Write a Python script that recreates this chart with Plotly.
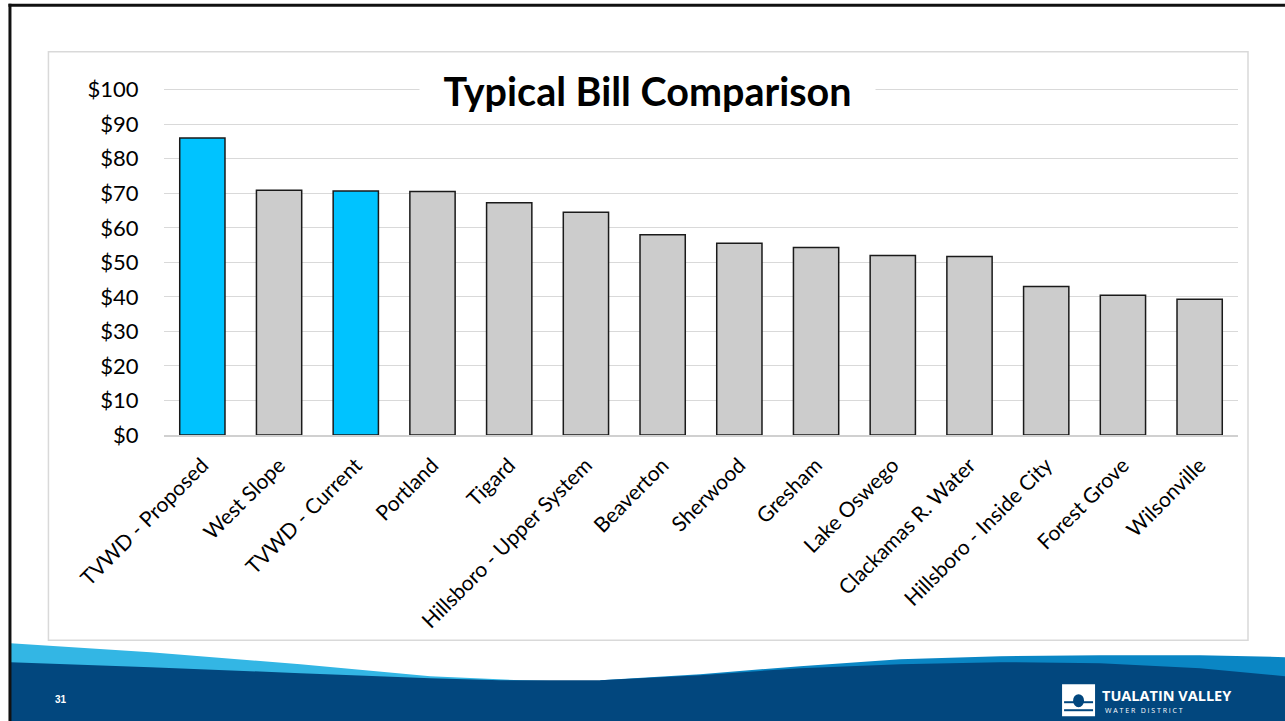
import plotly.graph_objects as go

categories = ["TVWD - Proposed", "West Slope", "TVWD - Current", "Portland", "Tigard",
              "Hillsboro - Upper System", "Beaverton", "Sherwood", "Gresham", "Lake Oswego",
              "Clackamas R. Water", "Hillsboro - Inside City", "Forest Grove", "Wilsonville"]
bills = [86.0, 70.9, 70.7, 70.5, 67.3, 64.5, 58.0, 55.5, 54.3, 52.0, 51.7, 43.0, 40.5, 39.3]
highlight = ["TVWD - Proposed", "TVWD - Current"]
tick_vals = [0, 10, 20, 30, 40, 50, 60, 70, 80, 90, 100]
tick_text = ["$" + str(v) for v in tick_vals]
y_top = 100.5

W, H = 1285, 721
B = 435
T = B - 345 * y_top / 100  # plot top in pixels
L, R = 163.6, 1238

def px(x):
    return (x - L) / (R - L)

def py(y):
    return (B - y) / (B - T)

colors = ["#00C3FF" if c in highlight else "#CCCCCC" for c in categories]

fig = go.Figure()
fig.add_trace(go.Bar(x=categories, y=bills, marker=dict(color=colors, line=dict(color="#1a1a1a", width=1.5)),
                     width=0.59, hoverinfo="x+y"))

shapes = []
# chart border box
shapes.append(dict(type="rect", xref="paper", yref="paper", x0=px(48), x1=px(1248), y0=py(640), y1=py(52),
                   line=dict(color="#D9D9D9", width=1.5), fillcolor="rgba(0,0,0,0)", layer="below"))

def path(points):
    return "M " + " L ".join(f"{px(x):.5f},{py(y):.5f}" for x, y in points) + " Z"

# light cyan wave (left)
shapes.append(dict(type="path", xref="paper", yref="paper",
                   path=path([(10, 643), (150, 652), (300, 664), (430, 676), (520, 680), (600, 682),
                              (600, 721), (10, 721)]),
                   fillcolor="#33B6E4", line=dict(width=0), layer="above"))
# right lighter band
shapes.append(dict(type="path", xref="paper", yref="paper",
                   path=path([(600, 680), (700, 674), (800, 666), (900, 659), (1000, 656), (1100, 655),
                              (1200, 655), (1285, 657), (1285, 721), (600, 721)]),
                   fillcolor="#0A86C4", line=dict(width=0), layer="above"))
# navy body
shapes.append(dict(type="path", xref="paper", yref="paper",
                   path=path([(10, 662), (150, 667), (300, 673), (430, 678), (500, 680), (600, 680),
                              (700, 675), (800, 668), (900, 664), (1000, 662), (1100, 663), (1200, 668),
                              (1285, 676), (1285, 721), (10, 721)]),
                   fillcolor="#02477E", line=dict(width=0), layer="above"))
# slide black frame
shapes.append(dict(type="line", xref="paper", yref="paper", x0=px(8), x1=px(1285), y0=py(5.5), y1=py(5.5),
                   line=dict(color="#111111", width=3), layer="above"))
shapes.append(dict(type="line", xref="paper", yref="paper", x0=px(9.5), x1=px(9.5), y0=py(4), y1=py(721),
                   line=dict(color="#111111", width=3), layer="above"))
# logo mark
shapes.append(dict(type="rect", xref="paper", yref="paper", x0=px(1062), x1=px(1095), y0=py(716), y1=py(684),
                   fillcolor="white", line=dict(width=0), layer="above"))
shapes.append(dict(type="circle", xref="paper", yref="paper", x0=px(1073), x1=px(1084), y0=py(707), y1=py(694),
                   fillcolor="#02477E", line=dict(width=0), layer="above"))
shapes.append(dict(type="line", xref="paper", yref="paper", x0=px(1064), x1=px(1093), y0=py(702), y1=py(702),
                   line=dict(color="#02477E", width=2), layer="above"))
shapes.append(dict(type="line", xref="paper", yref="paper", x0=px(1064), x1=px(1093), y0=py(710), y1=py(710),
                   line=dict(color="#02477E", width=2), layer="above"))

annotations = [
    dict(text="<b>Typical Bill Comparison</b>", xref="paper", yref="paper", x=px(647.5), y=py(90),
         showarrow=False, font=dict(family="Lato", size=39.5, color="#000000"), bgcolor="white",
         borderpad=0, xanchor="center", yanchor="middle", width=455, height=44),
    dict(text="<b>31</b>", xref="paper", yref="paper", x=px(61), y=py(699), showarrow=False,
         font=dict(family="Arial", size=10, color="white"), xanchor="center", yanchor="middle"),
    dict(text="<b>TUALATIN VALLEY</b>", xref="paper", yref="paper", x=px(1100), y=py(695), showarrow=False,
         font=dict(family="Open Sans", size=14.5, color="white"), xanchor="left", yanchor="middle"),
    dict(text="W A T E R   D I S T R I C T", xref="paper", yref="paper", x=px(1103), y=py(710), showarrow=False,
         font=dict(family="Open Sans", size=7, color="white"), xanchor="left", yanchor="middle"),
]

fig.update_layout(
    width=W, height=H,
    margin=dict(l=L, r=W - R, t=T, b=H - B, pad=0),
    paper_bgcolor="white", plot_bgcolor="white",
    showlegend=False, bargap=0.41,
    shapes=shapes, annotations=annotations,
    font=dict(family="Lato", color="#000000"),
)
fig.update_xaxes(tickangle=-45, tickfont=dict(family="Lato", size=21, color="#000000"),
                 showgrid=False, showline=True, linecolor="#D0D0D0", linewidth=1.5,
                 ticks="outside", ticklen=8, tickcolor="rgba(0,0,0,0)", fixedrange=True)
fig.update_yaxes(range=[0, y_top], tickvals=tick_vals, ticktext=tick_text,
                 tickfont=dict(family="Lato", size=22, color="#000000"),
                 showgrid=True, gridcolor="#D9D9D9", gridwidth=1, zeroline=False,
                 ticks="outside", ticklen=20, tickcolor="rgba(0,0,0,0)", fixedrange=True)

fig.write_html("out.html")
